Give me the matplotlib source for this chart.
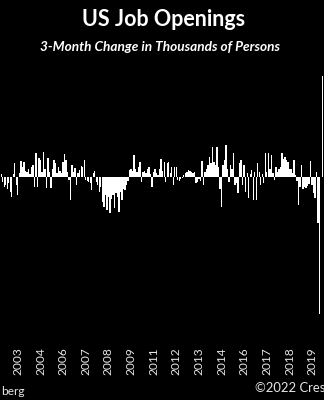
import pandas as pd
import matplotlib
matplotlib.use("Agg")
import matplotlib.pyplot as plt

# 3-month change in US job openings, thousands of persons (monthly, Sep 2002 - Jun 2020)
START_MONTH = "2002-09-01"
changes = [
    50, -90, -180, -140, -220, -110, -270, -360, 50, 250,
    -140, -320, 70, 290, 180, 270, 110, 90, 140, 50,
    180, 220, -180, 430, -180, 340, 310, 90, 450, 140,
    -200, 340, 90, -200, 140, 310, 250, 70, 180, 110,
    70, 270, 410, 310, 90, -50, -410, 220, 90, 160,
    -140, 70, 130, 200, 180, 310, -50, -70, -90, -110,
    -230, 70, 110, -90, -140, -270, -180, -450, -540, -320,
    -590, -360, -650, -400, -320, -560, -290, -360, -630, -270,
    -410, -220, -230, -140, -70, 130, 140, 110, 400, 140,
    90, 180, 270, -90, 90, 110, 70, 140, 180, 50,
    -180, 90, 140, 70, 40, 140, 320, 110, 270, -90,
    250, 270, 70, 180, -140, 180, 180, -50, -70, -40,
    -20, 40, 70, 90, 130, 110, 90, 70, 90, -110,
    -90, -40, -70, 290, -140, 90, 140, 220, 360, 250,
    540, 270, 220, 540, 180, -220, -540, 220, 310, 580,
    140, -90, 220, 140, 430, -140, -110, -290, 250, 310,
    -140, 220, -270, 70, -380, 50, 130, -410, 90, -410,
    250, 90, -140, 50, -110, 430, 90, 430, 140, 400,
    70, -50, 180, 90, 140, 180, 430, 320, 360, 310,
    270, 140, 140, 70, 310, 40, -70, -500, -180, 220,
    -220, -180, -200, -160, -130, 290, -140, -290, -380, 90,
    -830, -2470, 0, 1820,
]

TITLE = "US Job Openings"
SUBTITLE = "3-Month Change in Thousands of Persons"
# the reference is cropped, only these parts of the footer are visible
SOURCE = "berg"
CREDIT = "©2022 Cres"

months = pd.date_range(START_MONTH, periods=len(changes), freq="MS")
positions = list(range(len(changes)))
tick_pos = positions[11::15]
tick_labels = [str(months[p].year) for p in tick_pos]

plt.rcParams["font.family"] = ["Lato", "DejaVu Sans"]

fig = plt.figure(figsize=(3.24, 4.0), dpi=100, facecolor="black")
ax = fig.add_axes([0.0, 0.1425, 1.0, 0.7075], facecolor="black")

ax.bar(positions, changes, width=0.9, color="white", linewidth=0)
ax.set_xlim(-0.8, 213.9)
ax.set_ylim(-2988, 2106)

ax.set_xticks(tick_pos)
ax.set_xticklabels(tick_labels, rotation=90, color="#e6e6e6", fontsize=8.6)
ax.tick_params(axis="x", length=0, pad=3)
ax.set_yticks([])
for s in ax.spines.values():
    s.set_visible(False)

fig.text(0.505, 0.951, TITLE, ha="center", va="center", color="white",
         fontsize=15.5, fontweight="bold")
fig.text(0.493, 0.882, SUBTITLE, ha="center", va="center", color="white",
         fontsize=9.8, fontweight="bold", style="italic")
fig.text(0.003, 0.022, SOURCE, ha="left", va="center", color="#e6e6e6",
         fontsize=8.6)
fig.text(0.787, 0.03, CREDIT, ha="left", va="center", color="#e6e6e6",
         fontsize=9.4)

fig.savefig("out.png", dpi=100, facecolor="black")
